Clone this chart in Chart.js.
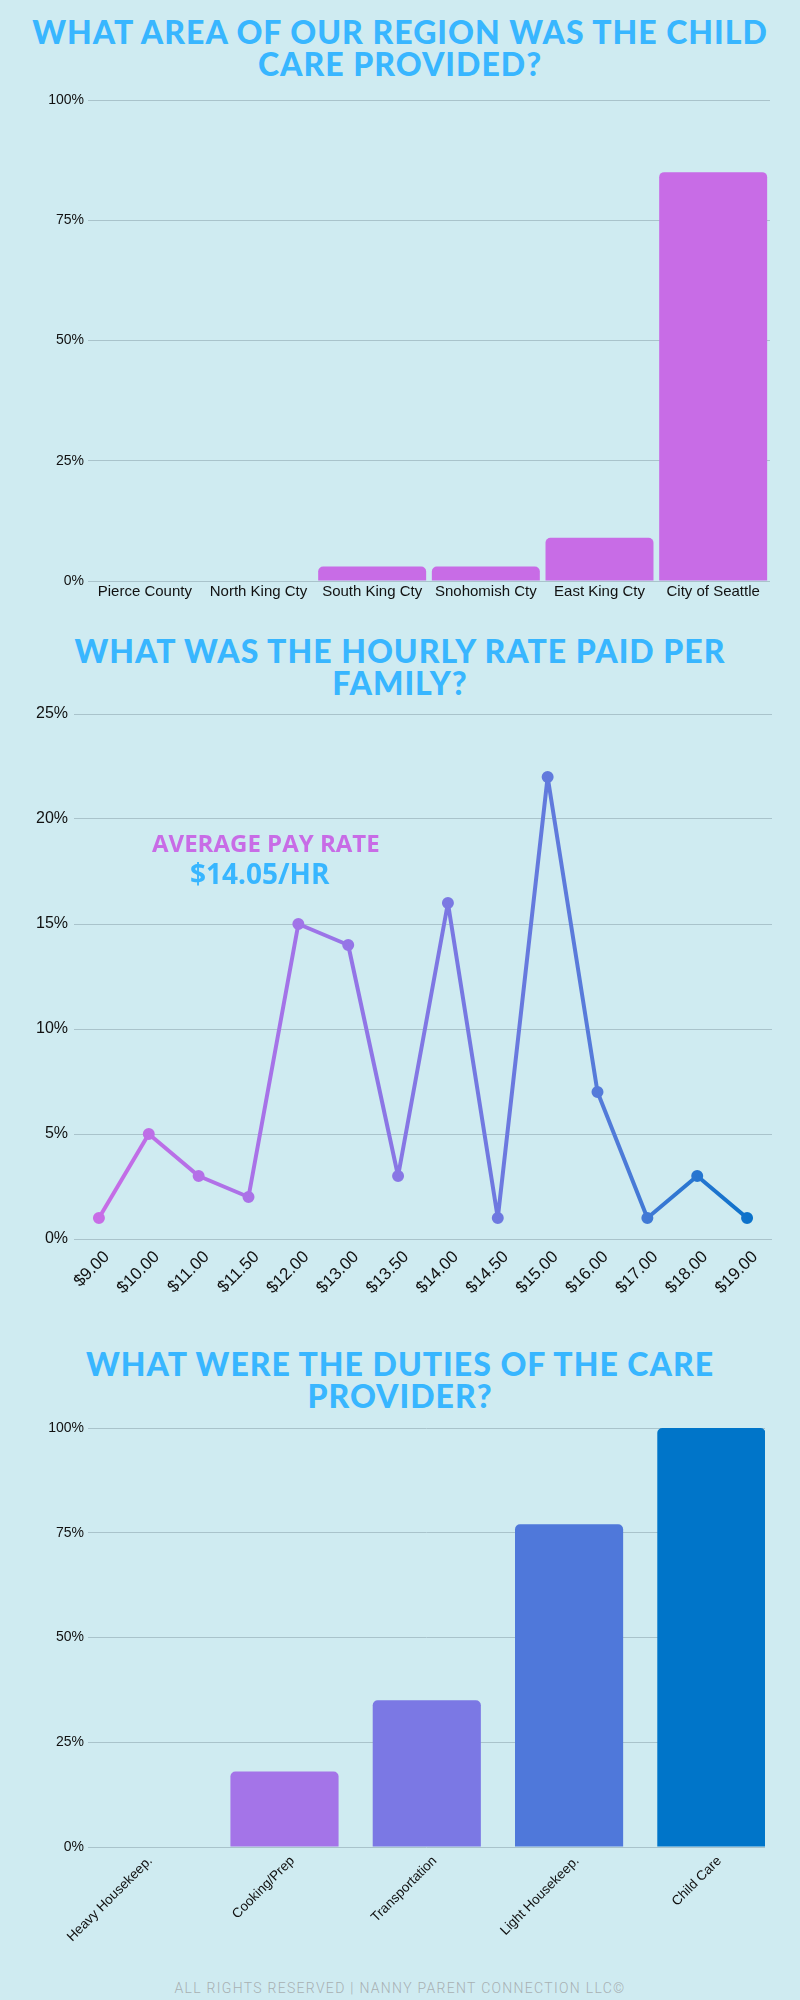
<!DOCTYPE html>
<html>
<head>
<meta charset="utf-8">
<script src="https://cdn.jsdelivr.net/npm/chart.js@4.4.1/dist/chart.umd.min.js"></script>
<style>
  body { margin: 0; background: #cfebf1; }
  .page { position: relative; width: 800px; height: 2000px; background: #cfebf1; overflow: hidden; }
  .title { position: absolute; left: 0; width: 800px; text-align: center; color: #38b6ff;
           font-family: Lato, sans-serif; font-weight: 900; font-size: 32px; line-height: 32px; letter-spacing: 1px; }
  .box { position: absolute; left: 0; width: 800px; }
  .note { position: absolute; font-family: "Open Sans", sans-serif; font-weight: 700; white-space: nowrap; }
  .footer { position: absolute; left: 0; width: 800px; top: 1980px; text-align: center; color: #a7b0b3;
            font-family: Roboto, sans-serif; font-weight: 300; font-size: 14px; letter-spacing: 1.3px; }
</style>
</head>
<body>
<div class="page">
  <div class="title" style="top:16px">WHAT AREA OF OUR REGION WAS THE CHILD<br>CARE PROVIDED?</div>
  <div class="box" style="top:85px;height:525px"><canvas id="regionChart"></canvas></div>

  <div class="title" style="top:635px">WHAT WAS THE HOURLY RATE PAID PER<br>FAMILY?</div>
  <div class="box" style="top:695px;height:610px"><canvas id="rateChart"></canvas></div>
  <div class="note" style="left:152px;top:826px;font-size:24px;color:#c86ce6">AVERAGE PAY RATE</div>
  <div class="note" style="left:190px;top:854px;font-size:28px;color:#38b6ff">$14.05/HR</div>

  <div class="title" style="top:1348px">WHAT WERE THE DUTIES OF THE CARE<br>PROVIDER?</div>
  <div class="box" style="top:1410px;height:555px"><canvas id="dutyChart"></canvas></div>

  <div class="footer">ALL RIGHTS RESERVED | NANNY PARENT CONNECTION LLC©</div>
</div>

<script>
// Data
const regionLabels = ["Pierce County", "North King Cty", "South King Cty", "Snohomish Cty", "East King Cty", "City of Seattle"];
const regionValues = [0, 0, 3, 3, 9, 85];

const rateLabels = ["$9.00", "$10.00", "$11.00", "$11.50", "$12.00", "$13.00", "$13.50",
                    "$14.00", "$14.50", "$15.00", "$16.00", "$17.00", "$18.00", "$19.00"];
const rateValues = [1, 5, 3, 2, 15, 14, 3, 16, 1, 22, 7, 1, 3, 1];

const dutyLabels = ["Heavy Housekeep.", "Cooking/Prep", "Transportation", "Light Housekeep.", "Child Care"];
const dutyValues = [0, 18, 35, 77, 100];

// Styles
const gridColor = '#a9c3cb';
const tickFont = { family: "'Liberation Sans', Arial, sans-serif", size: 14 };
const dutyColors = ['#c86ce6', '#a474e8', '#7b78e4', '#4f78da', '#0075c9'];
const pct = v => v + '%';

Chart.defaults.color = '#111';
Chart.defaults.animation = false;

// Chart 1 - region bars
new Chart(document.getElementById('regionChart').getContext('2d'), {
    type: 'bar',
    data: {
        labels: regionLabels,
        datasets: [{
            data: regionValues,
            backgroundColor: '#c86ce6',
            borderRadius: 5,
            borderSkipped: 'bottom',
            barPercentage: 0.95,
            categoryPercentage: 1
        }]
    },
    options: {
        responsive: true,
        maintainAspectRatio: false,
        layout: { padding: { top: 15, right: 30, left: 0, bottom: 0 } },
        plugins: { legend: { display: false }, tooltip: { enabled: false } },
        scales: {
            x: {
                grid: { display: false },
                border: { display: false },
                ticks: { font: { ...tickFont, size: 15 }, padding: -6, maxRotation: 0, autoSkip: false },
                afterFit: s => { s.height = 29; }
            },
            y: {
                min: 0, max: 100,
                ticks: { stepSize: 25, callback: pct, font: tickFont, padding: 4 },
                grid: { color: gridColor, drawTicks: false },
                border: { display: false },
                afterFit: s => { s.width = 88; }
            }
        }
    }
});

// Chart 2 - hourly rate line with a left-to-right colour fade
function lineGradient(chart) {
    const area = chart.chartArea;
    if (!area) return '#7b78e4';
    const g = chart.ctx.createLinearGradient(area.left, 0, area.right, 0);
    g.addColorStop(0, '#cc6ce6');
    g.addColorStop(0.35, '#9d74e8');
    g.addColorStop(0.55, '#7878e2');
    g.addColorStop(0.78, '#4f7bd8');
    g.addColorStop(1, '#0070c8');
    return g;
}

new Chart(document.getElementById('rateChart').getContext('2d'), {
    type: 'line',
    data: {
        labels: rateLabels,
        datasets: [{
            data: rateValues,
            borderColor: c => lineGradient(c.chart),
            pointBackgroundColor: c => lineGradient(c.chart),
            pointBorderColor: c => lineGradient(c.chart),
            borderWidth: 4,
            borderJoinStyle: 'round',
            borderCapStyle: 'round',
            pointRadius: 4,
            tension: 0,
            fill: false
        }]
    },
    options: {
        responsive: true,
        maintainAspectRatio: false,
        layout: { padding: { top: 19, right: 28, left: 0, bottom: 0 } },
        plugins: { legend: { display: false }, tooltip: { enabled: false } },
        scales: {
            x: {
                offset: true,
                grid: { display: false },
                border: { display: false },
                ticks: {
                    font: { ...tickFont, size: 17 },
                    minRotation: 45, maxRotation: 45,
                    autoSkip: false, padding: 0, labelOffset: 8
                },
                afterFit: s => { s.height = 66; }
            },
            y: {
                min: 0, max: 25,
                ticks: { stepSize: 5, callback: pct, font: { ...tickFont, size: 16 }, padding: 6 },
                grid: { color: gridColor, drawTicks: false },
                border: { display: false },
                afterFit: s => { s.width = 74; }
            }
        }
    }
});

// Chart 3 - duties bars (linear x so the bars sit where the original has them)
new Chart(document.getElementById('dutyChart').getContext('2d'), {
    type: 'bar',
    data: {
        datasets: [{
            data: dutyValues.map((v, i) => ({ x: i, y: v })),
            backgroundColor: dutyColors,
            borderRadius: 5,
            borderSkipped: 'bottom',
            barPercentage: 0.76,
            categoryPercentage: 1
        }]
    },
    options: {
        responsive: true,
        maintainAspectRatio: false,
        layout: { padding: { top: 18, right: 35, left: 0, bottom: 0 } },
        plugins: { legend: { display: false }, tooltip: { enabled: false } },
        scales: {
            x: {
                type: 'linear',
                offset: false,
                min: -0.381, max: 4.377,
                grid: { display: false },
                border: { display: false },
                ticks: {
                    stepSize: 1,
                    includeBounds: false,
                    autoSkip: false,
                    minRotation: 45, maxRotation: 45,
                    font: { ...tickFont, size: 13.5 },
                    padding: -2,
                    labelOffset: 8,
                    callback: v => dutyLabels[v] !== undefined ? dutyLabels[v] : ''
                },
                afterFit: s => { s.height = 118; }
            },
            y: {
                min: 0, max: 100,
                ticks: { stepSize: 25, callback: pct, font: tickFont, padding: 4 },
                grid: { color: gridColor, drawTicks: false },
                border: { display: false },
                afterFit: s => { s.width = 88; }
            }
        }
    }
});
</script>
</body>
</html>
